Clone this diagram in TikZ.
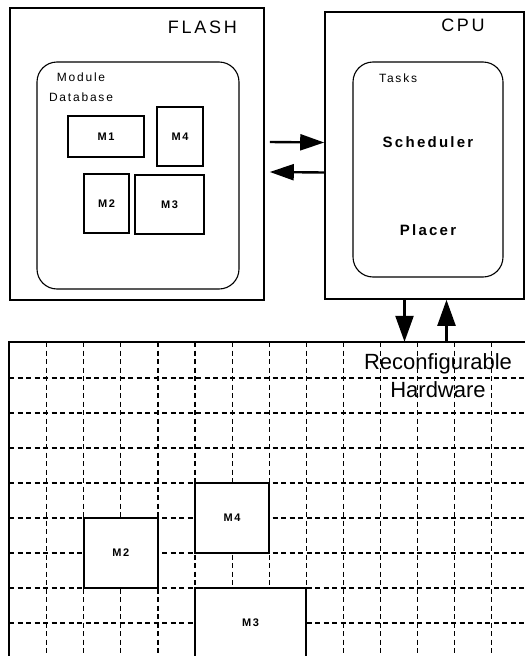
\documentclass[tikz,border=0pt]{standalone}
\usepackage{fontspec}
\setmainfont{Liberation Sans}
\newfontfamily\spacedfont{Liberation Sans}[LetterSpace=15]
\usetikzlibrary{arrows.meta, positioning}

\begin{document}
\begin{tikzpicture}[
   x=1pt, y=-1pt,
   unit/.style={rectangle, draw, line width=1.6pt, inner sep=0pt},
   pool/.style={rectangle, rounded corners=20pt, draw, line width=1.1pt, inner sep=0pt},
   module/.style={rectangle, draw, line width=1.6pt, fill=white, inner sep=0pt,
                  font=\spacedfont\bfseries\fontsize{11}{13}\selectfont},
   unitlabel/.style={font=\spacedfont\fontsize{18}{20}\selectfont, inner sep=0pt},
   note/.style={font=\spacedfont\fontsize{12}{20}\selectfont, inner sep=0pt, align=center},
   taskname/.style={font=\spacedfont\bfseries\fontsize{15}{17}\selectfont, inner sep=0pt},
   cellline/.style={dash pattern=on 5pt off 3.5pt, line width=1.2pt},
   harr/.style={-{Triangle[length=24pt, width=16pt]}, line width=2.4pt},
   varr/.style={-{Triangle[length=26pt, width=18pt]}, line width=2.4pt}]
 \useasboundingbox (0,0) rectangle (525,656);
 \node[unit, minimum width=254pt, minimum height=292pt] (flash) at (137,154) {};
 \node[unitlabel, anchor=east] (flashlbl) at (237,27) {FLASH};
 \node[pool, minimum width=202pt, minimum height=227pt] (db) at (138,175.5) {};
 \node[note] (dblbl) at (81,87) {Module\\Database};
 \node[module, minimum width=76pt, minimum height=41pt] (m1) at (106,136.5) {M1};
 \node[module, minimum width=46pt, minimum height=59pt] (m4) at (180,136.5) {M4};
 \node[module, minimum width=45pt, minimum height=59pt] (m2) at (106.5,203.5) {M2};
 \node[module, minimum width=69pt, minimum height=59pt] (m3) at (169.5,204.5) {M3};
 \node[unit, minimum width=199pt, minimum height=287pt] (cpu) at (424.5,155.5) {};
 \node[unitlabel] (cpulbl) at (463,25) {CPU};
 \node[pool, minimum width=150pt, minimum height=215pt] (tasks) at (428,169.5) {};
 \node[note, anchor=west] (taskslbl) at (379,78) {Tasks};
 \node[taskname] (sched) at (428,142) {Scheduler};
 \node[taskname] (placer) at (428,230) {Placer};
 \node[minimum width=516pt, minimum height=314pt, inner sep=0pt] (hw) at (267,499) {};
 \begin{scope}
  \clip (hw.south west) rectangle (hw.north east);
  \foreach \i in {1,...,13}
   \draw[cellline] (9.5+37.1*\i,342) -- (9.5+37.1*\i,656);
  \foreach \j in {1,...,8}
   \draw[cellline] (9,343+35*\j) -- (525,343+35*\j);
 \end{scope}
 \draw[line width=1.6pt] (hw.south west) -- (hw.north west) -- (hw.north east);
 \node[font=\fontsize{22}{28}\selectfont, align=center, inner sep=0pt] (hwlbl) at (438,376) {Reconfigurable\\Hardware};
 \node[module, minimum width=74.2pt, minimum height=70pt] (hwm2) at (120.8,553) {M2};
 \node[module, minimum width=74.2pt, minimum height=70pt] (hwm4) at (232.1,518) {M4};
 \node[module, minimum width=111.3pt, minimum height=70pt] (hwm3) at (250.6,623) {M3};
 \draw[harr] ([xshift=5pt, yshift=12pt]flash.east) -- ([yshift=13pt]cpu.west);
 \draw[harr] ([yshift=-17pt]cpu.west) -- ([xshift=5pt, yshift=-18pt]flash.east);
 \draw[varr] ([xshift=-20pt]cpu.south) -- ([xshift=-20pt]cpu.south |- hw.north);
 \draw[varr] ([xshift=22pt]cpu.south |- hw.north) -- ([xshift=22pt]cpu.south);
\end{tikzpicture}
\end{document}
